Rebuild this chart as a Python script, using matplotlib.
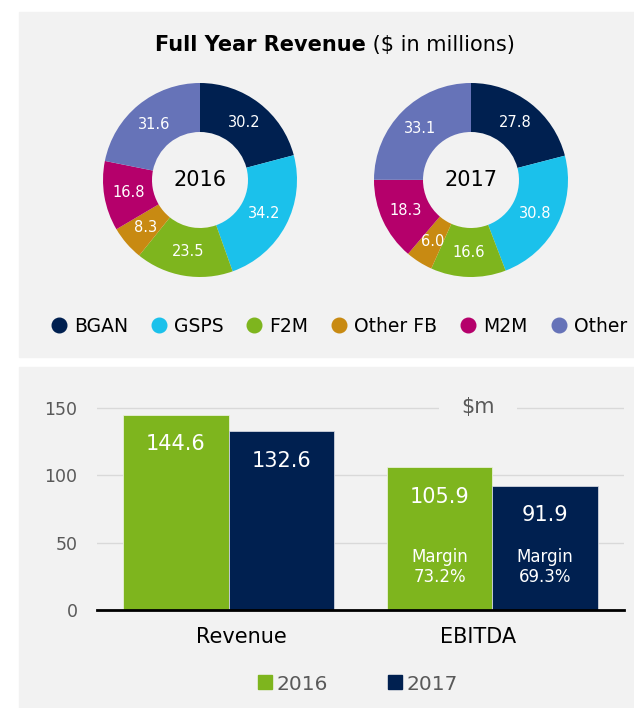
import matplotlib
matplotlib.use("Agg")
import matplotlib.pyplot as plt
from matplotlib.patches import Rectangle
from matplotlib.lines import Line2D
from matplotlib.transforms import ScaledTranslation
import numpy as np

plt.rcParams['font.family'] = ['DejaVu Sans']

# ---------------- data ----------------
segments = ["BGAN", "GSPS", "F2M", "Other FB", "M2M", "Other"]
seg_colors = ["#002050", "#1BC1EB", "#7EB51E", "#C88A12", "#B5006B", "#6673B8"]
rev_2016 = [30.2, 34.2, 23.5, 8.3, 16.8, 31.6]
rev_2017 = [27.8, 30.8, 16.6, 6.0, 18.3, 33.1]
years = ["2016", "2017"]

categories = ["Revenue", "EBITDA"]
bar_2016 = [144.6, 105.9]
bar_2017 = [132.6, 91.9]
margins = [73.2, 69.3]
yticks = [0, 50, 100, 150]

GREEN = "#7EB51E"
NAVY = "#002050"
PANEL = "#F2F2F2"
GRAY = "#595959"

W, H = 634, 708
fig = plt.figure(figsize=(W / 100, H / 100), dpi=100)
fig.patch.set_facecolor("white")


def fx(px):
    return px / W


def fy(py):
    return 1 - py / H


# panels
fig.patches.append(Rectangle((fx(19), fy(357)), fx(W - 19), (357 - 12) / H,
                             transform=fig.transFigure, color=PANEL, zorder=-10))
fig.patches.append(Rectangle((fx(19), fy(708)), fx(W - 19), (708 - 367) / H,
                             transform=fig.transFigure, color=PANEL, zorder=-10))

# title
fig.text(fx(366), fy(45), "Full Year Revenue", fontsize=15, fontweight="bold",
         ha="right", va="center")
fig.text(fx(366), fy(45), " (\\$ in millions)", fontsize=15, ha="left", va="center")

# donuts
centers = [200, 471]
for cx, vals, yr in zip(centers, [rev_2016, rev_2017], years):
    ax = fig.add_axes([fx(cx - 100), fy(180 + 100), 200 / W, 200 / H])
    ax.set_zorder(1)
    total = sum(vals)

    def fmt(p, total=total):
        return f"{p * total / 100:.1f}"

    wedges, texts, autotexts = ax.pie(
        vals, colors=seg_colors, startangle=90, counterclock=False,
        radius=0.97, autopct=fmt, pctdistance=0.745,
        wedgeprops=dict(width=0.49, linewidth=0),
        textprops=dict(color="white", fontsize=10.5))
    ax.set_xlim(-1, 1)
    ax.set_ylim(-1, 1)
    ax.set_aspect("equal")
    ax.axis("off")
    ax.text(0, 0, yr, ha="center", va="center", fontsize=15, color="black")

# top legend
handles = [Line2D([], [], marker="o", ls="", color=c, markersize=10.5) for c in seg_colors]
fig.legend(handles, segments, loc="center", bbox_to_anchor=(fx(339), fy(326)),
           ncol=6, frameon=False, fontsize=13.5, handlelength=0.8,
           handletextpad=0.4, columnspacing=1.25, borderpad=0, borderaxespad=0)

# bar chart
axb = fig.add_axes([fx(97), fy(610), 527 / W, (160 * 202 / 150) / H])
axb.set_zorder(1)
axb.set_facecolor("none")
x = np.arange(len(categories))
bw = 0.4
axb.bar(x - bw / 2, bar_2016, bw, color=GREEN, edgecolor="#E8F0D8", linewidth=0.6, zorder=2)
axb.bar(x + bw / 2, bar_2017, bw, color=NAVY, edgecolor="#D0D4DE", linewidth=0.6, zorder=2)
axb.set_xlim(-0.5, 1.5)
axb.set_ylim(0, 160)
axb.set_yticks(yticks)
axb.set_yticklabels([str(t) for t in yticks])
axb.set_xticks(x)
axb.set_xticklabels(categories)
axb.tick_params(axis="y", length=0, pad=14, labelsize=12.5, labelcolor=GRAY)
axb.tick_params(axis="x", length=0, pad=12, labelsize=15, labelcolor="black")
# category labels sit slightly inward in the original
for lab, dx in zip(axb.get_xticklabels(), [13, -14]):
    lab.set_transform(lab.get_transform() + ScaledTranslation(dx / 100, 0, fig.dpi_scale_trans))
for s in ["top", "right", "left"]:
    axb.spines[s].set_visible(False)
axb.spines["bottom"].set_color("black")
axb.spines["bottom"].set_linewidth(2)
axb.spines["bottom"].set_zorder(3)
axb.yaxis.grid(True, color="#D9D9D9", linewidth=1)
axb.set_axisbelow(True)

for xs, vals in [(x - bw / 2, bar_2016), (x + bw / 2, bar_2017)]:
    for xi, v in zip(xs, vals):
        axb.annotate(f"{v:.1f}", xy=(xi, v), xytext=(0, -21), textcoords="offset points",
                     ha="center", va="center", color="white", fontsize=15, zorder=4)

for xi, m in zip([1 - bw / 2, 1 + bw / 2], margins):
    axb.text(xi, 32, f"Margin\n{m:.1f}%", ha="center", va="center", color="white",
             fontsize=12, linespacing=1.15, zorder=4)

axb.text(0.946, 151, "\\$m", ha="center", va="center", fontsize=15, color=GRAY,
         bbox=dict(boxstyle="square,pad=1.05", facecolor=PANEL, edgecolor="none"),
         zorder=1.5, clip_on=False)

# bottom legend
bh = [Line2D([], [], marker="s", ls="", color=c, markersize=10) for c in [GREEN, NAVY]]
fig.legend(bh, years, loc="center", bbox_to_anchor=(fx(358), fy(684)), ncol=2,
           frameon=False, fontsize=14.5, labelcolor=GRAY, handlelength=0.7,
           handletextpad=0.25, columnspacing=2.95, borderpad=0, borderaxespad=0)

fig.savefig("out.png", dpi=100, facecolor="white")
